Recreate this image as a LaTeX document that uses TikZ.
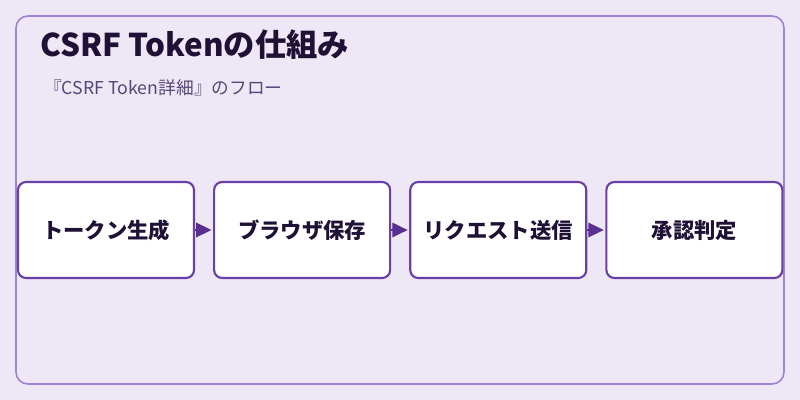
\documentclass[tikz,border=0pt]{standalone}
\usepackage{fontspec}
\setmainfont{Noto Sans CJK JP}
\usepackage{tikz}
\usetikzlibrary{arrows.meta,positioning}

\definecolor{bgcol}{HTML}{EEE7F6}
\definecolor{framecol}{HTML}{A081D2}
\definecolor{boxcol}{HTML}{6A40A8}
\definecolor{arrowcol}{HTML}{5B2E91}
\definecolor{titlecol}{HTML}{1F1035}
\definecolor{subcol}{HTML}{574778}

\begin{document}
\begin{tikzpicture}[x=0.75pt,y=-0.75pt,
  stepbox/.style={draw=boxcol, line width=1.6pt, fill=white, rounded corners=6pt,
    minimum width=132pt, minimum height=72pt, inner sep=0pt,
    font=\fontsize{16}{18}\selectfont\bfseries, text=titlecol},
  flow/.style={arrowcol, line width=0.8pt, shorten >=1.2pt,
    -{Triangle[length=11.5pt,width=11pt]}}]
\fill [bgcol] (0,0) rectangle (800,400);
\draw [framecol, line width=1.2pt, rounded corners=9pt] (16,16) rectangle (784,384);

\node [anchor=base west, text=titlecol, font=\fontsize{23.5}{26}\selectfont\bfseries, inner sep=0pt] (title) at (40,56) {CSRF Tokenの仕組み};
\node [anchor=base west, text=subcol, font=\fontsize{13.3}{16}\selectfont, inner sep=0pt] (subtitle) at (44,94) {『CSRF Token詳細』のフロー};

\node [stepbox] (gen) at (106,230) {トークン生成};
\node [stepbox, right=13.5pt of gen] (store) {ブラウザ保存};
\node [stepbox, right=13.5pt of store] (send) {リクエスト送信};
\node [stepbox, right=13.5pt of send] (check) {承認判定};

\draw [flow] (gen) -- (store);
\draw [flow] (store) -- (send);
\draw [flow] (send) -- (check);
\end{tikzpicture}
\end{document}
